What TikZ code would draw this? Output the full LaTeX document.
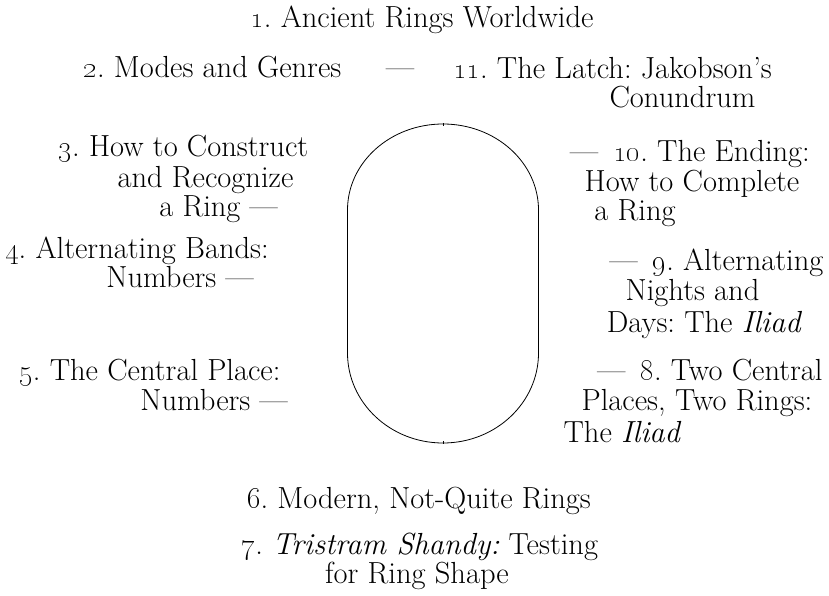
\documentclass[tikz,border=0pt]{standalone}
\DeclareFontShape{OML}{cmm}{m}{it}{<-> cmmi12}{\skewchar\font127}
\newcommand\osn[1]{\oldstylenums{#1}}
\tikzset{
  lbl/.style={anchor=base, inner sep=0pt, outer sep=0pt, font=\fontsize{30.5}{32}\selectfont\frenchspacing},
  ring/.style={line width=0.8pt, black}
}
\begin{document}
\begin{tikzpicture}[x=1pt,y=1pt]
\useasboundingbox (0,0) rectangle (829,-596);
% ring
\draw[ring] (443,-124) arc[start angle=90, end angle=180, x radius=95.5pt, y radius=86pt]
  -- (347.5,-353) arc[start angle=180, end angle=360, x radius=95.5pt, y radius=90pt]
  -- (538.5,-210) arc[start angle=0, end angle=90, x radius=95.5pt, y radius=86pt] -- cycle;
\draw[ring] (443,-123.5) -- (443,-126);
\draw[ring] (443,-443.5) -- (443,-441);
% top
\node[lbl] (n1) at (422,-28) {\osn{1}. Ancient Rings Worldwide};
\node[lbl] (n2) at (212.5,-78) {\osn{2}. Modes and Genres};
\node[lbl] (d2) at (400,-78) {—};
\node[lbl] (n11a) at (612.5,-79) {\osn{11}. The Latch: Jakobson’s};
\node[lbl] (n11b) at (682.5,-108) {Conundrum};
% left
\node[lbl] (n3a) at (183.5,-157) {\osn{3}. How to Construct};
\node[lbl] (n3b) at (205.5,-187) {and Recognize};
\node[lbl] (n3c) at (218.5,-216) {a Ring —};
\node[lbl] (n4a) at (137,-258) {\osn{4}. Alternating Bands:};
\node[lbl] (n4b) at (180,-287) {Numbers —};
\node[lbl] (n5a) at (150,-380) {\osn{5}. The Central Place:};
\node[lbl] (n5b) at (214,-410) {Numbers —};
% right
\node[lbl] (n10a) at (690,-162) {—\enspace\osn{10}. The Ending:};
\node[lbl] (n10b) at (692,-192) {How to Complete};
\node[lbl] (n10c) at (635,-220) {a Ring};
\node[lbl] (n9a) at (716.5,-270) {—\enspace\osn{9}. Alternating};
\node[lbl] (n9b) at (692.5,-300) {Nights and};
\node[lbl] (n9c) at (704.5,-332) {Days: The \textit{Iliad}};
\node[lbl] (n8a) at (710,-380) {—\enspace\osn{8}. Two Central};
\node[lbl] (n8b) at (697,-410) {Places, Two Rings:};
\node[lbl] (n8c) at (622.5,-442) {The \textit{Iliad}};
% bottom
\node[lbl] (n6) at (419,-508) {\osn{6}. Modern, Not-Quite Rings};
\node[lbl] (n7a) at (420,-554) {\osn{7}. \textit{Tristram Shandy:} Testing};
\node[lbl] (n7b) at (417,-583) {for Ring Shape};
\end{tikzpicture}
\end{document}
